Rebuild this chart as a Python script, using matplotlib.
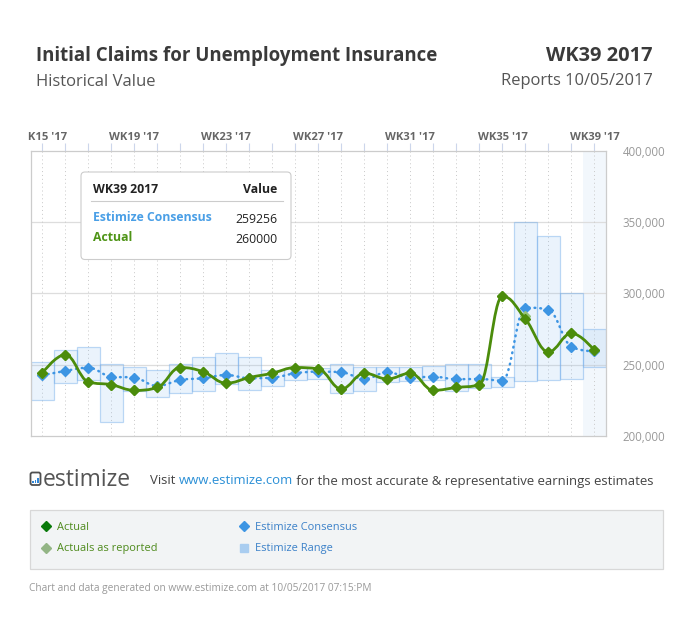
from matplotlib import pyplot as plt
from matplotlib.path import Path
from matplotlib.patches import PathPatch, FancyBboxPatch, Rectangle
from matplotlib.transforms import Affine2D, Bbox, TransformedBbox, blended_transform_factory
import numpy as np

plt.rcParams["font.family"] = ["Open Sans", "DejaVu Sans"]

weeks = np.arange(15, 40)
week_labels = ["WK15 '17", "WK19 '17", "WK23 '17", "WK27 '17", "WK31 '17", "WK35 '17", "WK39 '17"]
label_weeks = [15, 19, 23, 27, 31, 35, 39]

actual = [244000, 257000, 238000, 236000, 232000, 234000, 248000, 245000, 237000,
          241000, 244000, 248000, 247000, 233000, 244000, 240000, 244000, 232000,
          234000, 236000, 298000, 282000, 259000, 272000, 260000]
as_reported = [244000, 257000, 238000, 236000, 232000, 234000, 248000, 245000, 237000,
               241000, 244000, 248000, 247000, 233000, 244000, 240000, 244000, 232000,
               234000, 236000, 298000, 284000, 259000, 272000, 260000]
consensus = [242500, 245600, 247900, 241600, 240900, 235100, 239300, 240500, 242800,
             240500, 240900, 244000, 245100, 244700, 240000, 244700, 240900, 241600,
             239800, 240000, 238800, 290000, 288400, 262600, 259256]
range_low = [225200, 237000, 239300, 210000, 231800, 227600, 229900, 231600, 236200,
             232300, 235300, 239300, 239800, 229900, 231600, 237600, 238600, 239300,
             231600, 233400, 234600, 238600, 239300, 240000, 248200]
range_high = [252100, 260300, 262600, 250300, 248200, 246300, 250300, 255200, 258000,
              255200, 246300, 247500, 247500, 250300, 248600, 248600, 248200, 249100,
              250300, 250300, 241600, 350000, 340000, 300000, 274800]
y_ticks = [200000, 250000, 300000, 350000, 400000]

GREEN = "#4b8c0b"
BLUE = "#3d95e3"
W, H = 685, 620
# pixel coordinates, y measured from the top of the image
PIX = Affine2D().scale(1, -1).translate(0, H)


def fx(x):
    return x / W


def fy(y):
    return 1 - y / H


def spline_path(xs, ys, smoothing=1.5):
    # highcharts style spline
    n = len(xs)
    verts = [(xs[0], ys[0])]
    codes = [Path.MOVETO]
    prev_right = (xs[0], ys[0])
    for i in range(1, n):
        x, y = xs[i], ys[i]
        lx, ly = xs[i - 1], ys[i - 1]
        if i < n - 1:
            nx, ny = xs[i + 1], ys[i + 1]
            d = smoothing + 1
            lcx, lcy = (smoothing * x + lx) / d, (smoothing * y + ly) / d
            rcx, rcy = (smoothing * x + nx) / d, (smoothing * y + ny) / d
            corr = ((rcy - lcy) * (rcx - x)) / (rcx - lcx) + y - rcy
            lcy += corr
            rcy += corr
            if lcy > ly and lcy > y:
                lcy = max(ly, y)
                rcy = 2 * y - lcy
            elif lcy < ly and lcy < y:
                lcy = min(ly, y)
                rcy = 2 * y - lcy
            if rcy > ny and rcy > y:
                rcy = max(ny, y)
                lcy = 2 * y - rcy
            elif rcy < ny and rcy < y:
                rcy = min(ny, y)
                lcy = 2 * y - rcy
            left, right = (lcx, lcy), (rcx, rcy)
        else:
            left, right = (x, y), None
        verts += [prev_right, left, (x, y)]
        codes += [Path.CURVE4] * 3
        prev_right = right
    return Path(verts, codes)


fig = plt.figure(figsize=(6.85, 6.2), dpi=100)
ax = fig.add_axes([fx(30.7), fy(436), fx(606) - fx(30.7), fy(150.7) - fy(436)])
ax.set_xlim(14.5, 39.5)
ax.set_ylim(200000, 400000)

# grid
for v in y_ticks[1:-1]:
    ax.axhline(v, color="#dddddd", lw=0.9, zorder=1)
for w in weeks:
    ax.axvline(w, color="#c8c8c8", lw=0.7, ls=(0, (1, 3)), zorder=1)
ax.axvspan(38.5, 39.5, color="#f2f7fc", zorder=0.5, lw=0)
for s in ax.spines.values():
    s.set_color("#cccccc")
    s.set_linewidth(0.9)

# range bars
ax.bar(weeks, np.array(range_high) - np.array(range_low), bottom=range_low, width=1.0,
       facecolor=(0.55, 0.74, 0.94, 0.18), edgecolor=(0.45, 0.68, 0.92, 0.45),
       linewidth=0.9, zorder=2)

# consensus
ax.add_patch(PathPatch(spline_path(weeks, consensus), fill=False, edgecolor=BLUE,
                       lw=1.8, ls=(0, (0.3, 2.0)), capstyle="round", zorder=3))
ax.plot(weeks, consensus, ls="none", marker="D", ms=4.6, color=BLUE, zorder=4)

# actual
ax.plot(weeks, as_reported, ls="none", marker="D", ms=5.2, color="#93c27a", zorder=4.5)
ax.add_patch(PathPatch(spline_path(weeks, actual), fill=False, edgecolor=GREEN,
                       lw=2.0, zorder=5))
ax.plot(weeks, actual, ls="none", marker="D", ms=5.2, color=GREEN, zorder=6)

ax.set_xticks(weeks)
ax.set_xticklabels([])
ax.tick_params(axis="x", top=True, bottom=False, direction="out", length=6,
               color="#ccd6eb", width=0.8)
ax.set_yticks(y_ticks)
ax.set_yticklabels([f"{v:,}" for v in y_ticks])
ax.tick_params(axis="y", left=False, right=True, labelleft=False, labelright=True,
               length=0, pad=12, labelsize=8.3, labelcolor="#999999")

tr = blended_transform_factory(ax.transData, fig.transFigure)
clip = TransformedBbox(Bbox([[fx(27.5), 0], [1, 1]]), fig.transFigure)
for w, lab in zip(label_weeks, week_labels):
    t = ax.text(w, fy(137), lab, transform=tr, ha="center", va="center",
                fontsize=8.1, fontweight="bold", color="#666666", clip_on=True)
    t.set_clip_box(clip)

# tooltip
tip = FancyBboxPatch((81, 172), 210, 87.5, boxstyle="round,pad=0,rounding_size=4",
                     transform=PIX, facecolor="white", edgecolor="#cccccc", lw=0.8,
                     zorder=10)
fig.patches.append(tip)
fig.add_artist(plt.Line2D([91, 283], [201, 201], color="#cccccc", lw=0.8,
                          transform=PIX, zorder=11))
fig.text(fx(93), fy(189.5), "WK39 2017", fontsize=8.8, fontweight="bold", color="#222222",
         va="center", zorder=12)
fig.text(fx(277), fy(189.5), "Value", fontsize=8.8, fontweight="bold", color="#222222",
         va="center", ha="right", zorder=12)
fig.text(fx(93), fy(217.5), "Estimize Consensus", fontsize=8.8, fontweight="bold",
         color="#4a9fe6", va="center", zorder=12)
fig.text(fx(277), fy(219.5), "259256", fontsize=8.8, color="#222222", va="center",
         ha="right", zorder=12)
fig.text(fx(93), fy(237), "Actual", fontsize=8.8, fontweight="bold", color="#4e9416",
         va="center", zorder=12)
fig.text(fx(277), fy(239.5), "260000", fontsize=8.8, color="#222222", va="center",
         ha="right", zorder=12)

# header
fig.text(fx(36), fy(61), "Initial Claims for Unemployment Insurance", fontsize=13.4,
         fontweight="bold", color="#3a3a3a", va="baseline")
fig.text(fx(36), fy(86), "Historical Value", fontsize=12, color="#555555", va="baseline")
fig.text(fx(653), fy(61), "WK39 2017", fontsize=14.4, fontweight="bold", color="#3a3a3a",
         va="baseline", ha="right")
fig.text(fx(653), fy(85), "Reports 10/05/2017", fontsize=11.9, color="#555555",
         va="baseline", ha="right")

# logo line
fig.patches.append(FancyBboxPatch((30.5, 472.5), 10, 12.5,
                                  boxstyle="round,pad=0,rounding_size=2.0",
                                  transform=PIX, facecolor="white",
                                  edgecolor="#505050", lw=1.3))
for bx, bh in zip([32.4, 34.6, 36.8], [2.0, 3.6, 5.6]):
    fig.patches.append(Rectangle((bx, 483.4 - bh), 1.7, bh, transform=PIX,
                                 facecolor="#2f86d8", lw=0))
fig.text(fx(42.5), fy(480), "estimize", fontsize=16.5, color="#555555", va="center")
t1 = fig.text(fx(150), fy(481), "Visit ", fontsize=9.45, color="#444444", va="center")
fig.canvas.draw()
r = fig.canvas.get_renderer()
x_next = t1.get_window_extent(r).x1
t2 = fig.text(x_next / W, fy(481), "www.estimize.com", fontsize=9.45, color="#2a8fd6",
              va="center")
x_next = t2.get_window_extent(r).x1
fig.text(x_next / W, fy(481), " for the most accurate & representative earnings estimates",
         fontsize=9.45, color="#444444", va="center")

# legend box
fig.patches.append(Rectangle((30, 510), 633, 59, transform=PIX, facecolor="#f2f4f5",
                             edgecolor="#d8d8d8", lw=0.9))
leg = [(46, 526, "D", "#0a7a0a", "Actual", "#4e8a1c"),
       (46, 548, "D", "#93b585", "Actuals as reported", "#4e8a1c"),
       (244, 526, "D", "#3d95e3", "Estimize Consensus", "#3a80c8"),
       (244, 548, "s", "#a9cdf0", "Estimize Range", "#3a80c8")]
for x, y, m, mc, lab, tc in leg:
    fig.add_artist(plt.Line2D([fx(x)], [fy(y)], marker=m, ms=5 if m == "D" else 5.5,
                              color=mc, ls="none", transform=fig.transFigure))
    fig.text(fx(x + 11), fy(y + 1), lab, fontsize=7.9, color=tc, va="center")

fig.text(fx(29), fy(588), "Chart and data generated on www.estimize.com at 10/05/2017 07:15:PM",
         fontsize=7.3, color="#999999", va="center")

fig.savefig("out.png", dpi=100)
